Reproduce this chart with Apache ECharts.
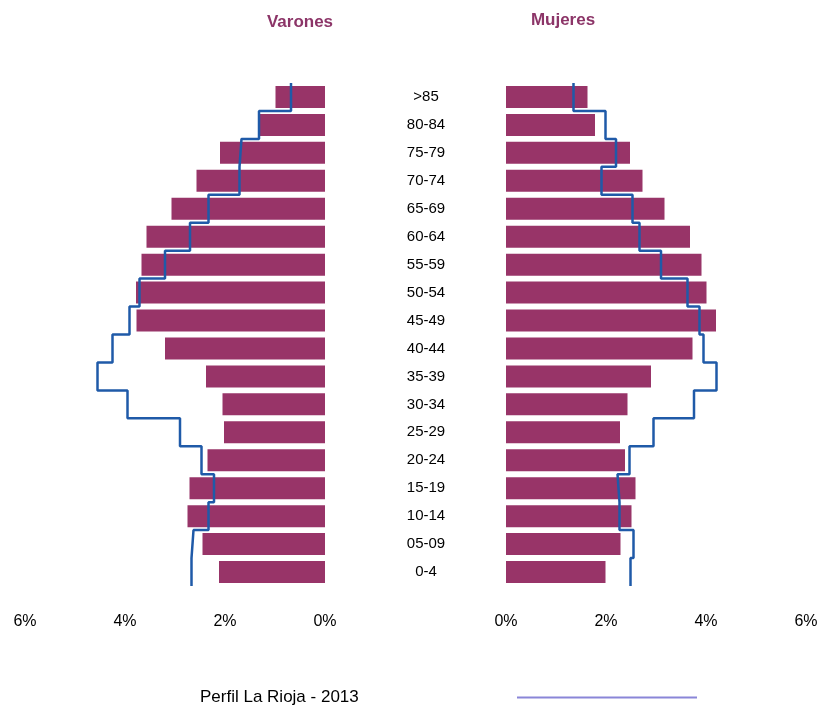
<!DOCTYPE html>
<html>
<head>
<meta charset="utf-8">
<script src="https://cdn.jsdelivr.net/npm/echarts@6/dist/echarts.min.js"></script>
<style>html,body{margin:0;padding:0;background:#fff;}#c{width:821px;height:711px;}</style>
</head>
<body>
<div id="c"></div>
<script>
// Categories, bottom to top
const categories = ['0-4','05-09','10-14','15-19','20-24','25-29','30-34','35-39','40-44','45-49','50-54','55-59','60-64','65-69','70-74','75-79','80-84','>85'];
// Bars (%)
const varones = [2.12,2.45,2.75,2.71,2.35,2.02,2.05,2.38,3.20,3.77,3.78,3.67,3.57,3.07,2.57,2.10,1.30,0.99];
const mujeres = [1.99,2.29,2.51,2.59,2.38,2.28,2.43,2.90,3.73,4.20,4.01,3.91,3.68,3.17,2.73,2.48,1.78,1.63];
// Profile line (Perfil La Rioja - 2013) (%)
const perfilVarones = [2.67,2.63,2.33,2.22,2.47,2.90,3.95,4.55,4.25,3.91,3.71,3.20,2.70,2.33,1.71,1.67,1.32,0.68];
const perfilMujeres = [2.49,2.55,2.27,2.23,2.47,2.95,3.76,4.21,3.95,3.87,3.63,3.10,2.67,2.53,1.91,2.20,1.99,1.35];
const xTicks = [0,2,4,6];
const legendName = 'Perfil La Rioja - 2013';

function stepData(vals){
  const out = [];
  vals.forEach((v,i)=>{ out.push([v,i]); out.push([v,i+1]); });
  return out;
}

const chart = echarts.init(document.getElementById('c'));
const barColor = '#983468';
const lineColor = '#1f5aa8';
const font = '"Liberation Sans", Arial, sans-serif';
const xAxisCommon = {
  type:'value', min: xTicks[0], max: xTicks[xTicks.length-1], interval: 2,
  axisLine:{show:false}, axisTick:{show:false}, splitLine:{show:false},
  axisLabel:{formatter: v => v + '%', color:'#000', fontSize:16, fontFamily:font, margin:28}
};
chart.setOption({
  backgroundColor:'#fff',
  animation:false,
  title:[
    {text:'Varones', left:295, top:9, textAlign:'center', textStyle:{color:'#8c3568', fontSize:17, fontWeight:'bold', fontFamily:font}},
    {text:'Mujeres', left:558, top:7, textAlign:'center', textStyle:{color:'#8c3568', fontSize:17, fontWeight:'bold', fontFamily:font}}
  ],
  legend:{
    data:[legendName], left:195, top:684, align:'right',
    icon:'rect', itemWidth:180, itemHeight:2,
    itemStyle:{color:'#8a86d8'},
    formatter: n => '{a|' + n + '}',
    textStyle:{color:'#000', fontSize:17, fontFamily:font, rich:{a:{width:312, align:'left', fontSize:17, fontFamily:font, color:'#000'}}}
  },
  grid:[
    {left:25, width:300, top:83, bottom:125},
    {left:506, width:300, top:83, bottom:125}
  ],
  xAxis:[
    Object.assign({gridIndex:0, inverse:true}, xAxisCommon),
    Object.assign({gridIndex:1}, xAxisCommon)
  ],
  yAxis:[
    {type:'category', gridIndex:0, data:categories, position:'right', axisLine:{show:false}, axisTick:{show:false}, axisLabel:{show:false}},
    {type:'category', gridIndex:1, data:categories, position:'left', axisLine:{show:false}, axisTick:{show:false},
      axisLabel:{align:'center', margin:80, color:'#000', fontSize:15, fontFamily:font}},
    {type:'value', gridIndex:0, min:0, max:categories.length, show:false},
    {type:'value', gridIndex:1, min:0, max:categories.length, show:false}
  ],
  series:[
    {name:'Varones', type:'bar', xAxisIndex:0, yAxisIndex:0, data:varones, barWidth:22, itemStyle:{color:barColor}},
    {name:'Mujeres', type:'bar', xAxisIndex:1, yAxisIndex:1, data:mujeres, barWidth:22, itemStyle:{color:barColor}},
    {name:legendName, type:'line', xAxisIndex:0, yAxisIndex:2, data:stepData(perfilVarones), symbol:'none', lineStyle:{color:lineColor, width:2.5}, itemStyle:{color:lineColor}, z:5},
    {name:legendName, type:'line', xAxisIndex:1, yAxisIndex:3, data:stepData(perfilMujeres), symbol:'none', lineStyle:{color:lineColor, width:2.5}, itemStyle:{color:lineColor}, z:5}
  ]
});
</script>
</body>
</html>
